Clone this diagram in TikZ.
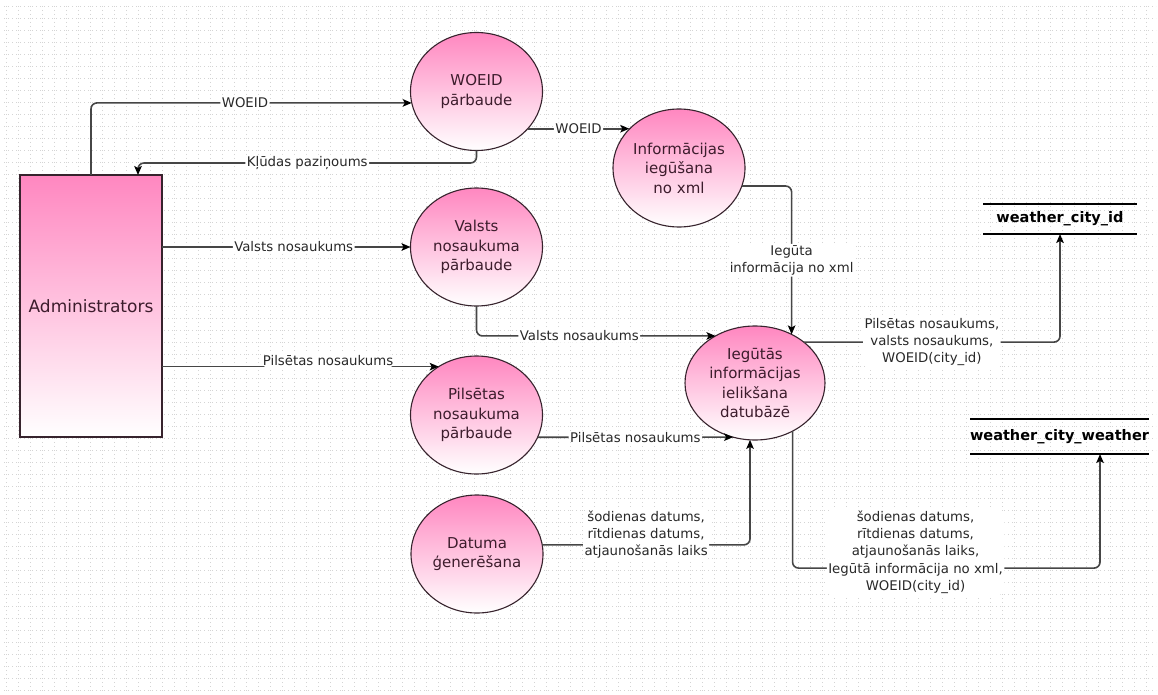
\documentclass[tikz,border=0pt]{standalone}
\usepackage{fontspec}
\setmainfont{DejaVu Sans}
\usetikzlibrary{shapes.geometric,arrows.meta,calc}
\definecolor{pinktop}{RGB}{255,135,192}
\definecolor{edgec}{RGB}{55,35,45}
\definecolor{wire}{RGB}{70,70,70}
\definecolor{labtxt}{RGB}{40,40,40}
\definecolor{proctxt}{RGB}{60,28,44}
\definecolor{gridc}{RGB}{212,212,212}
\tikzset{
  proc/.style={ellipse, draw=edgec, line width=1.1pt, top color=pinktop, bottom color=white,
    minimum width=132pt, minimum height=118pt, inner sep=0pt, outer sep=0pt, align=center,
    text=proctxt, font=\fontsize{15}{19.5}\selectfont},
  ent/.style={rectangle, draw=edgec, line width=1.1pt, top color=pinktop, bottom color=white,
    minimum width=142pt, minimum height=262pt, inner sep=0pt, outer sep=0pt,
    text=proctxt, font=\fontsize{17}{20}\selectfont},
  store/.style={rectangle, inner sep=0pt, outer sep=0pt, text=black,
    font=\fontsize{14.5}{18}\selectfont\bfseries},
  storeline/.style={draw=black, line width=2pt},
  flow/.style={draw=wire, line width=1.6pt, rounded corners=6pt,
    -{Stealth[length=9pt,width=7.5pt,inset=2pt,color=black]}},
  lab/.style={fill=white, inner sep=1.5pt, text=labtxt, align=center,
    font=\fontsize{13.3}{17.2}\selectfont},
  gridl/.style={draw=gridc, line width=0.6pt, dash pattern=on 0.6pt off 3.4pt},
}
\begin{document}
\begin{tikzpicture}[x=1pt,y=-1pt]
\useasboundingbox (0,0) rectangle (1158,695);
\fill[white] (0,0) rectangle (1158,695);
\foreach \gx in {6,18,...,1154} \draw[gridl] (\gx,6) -- (\gx,692);
\foreach \gy in {6,18,...,690} \draw[gridl] (4,\gy) -- (1156,\gy);

% nodes
\node[ent] (admin) at (91,306) {Administrators};
\node[proc] (woeid) at (476.5,91.5) {WOEID\\pārbaude};
\node[proc] (info) at (679,168) {Informācijas\\iegūšana\\no xml};
\node[proc] (valsts) at (476.5,247) {Valsts\\nosaukuma\\pārbaude};
\node[proc] (pils) at (476.5,415) {Pilsētas\\nosaukuma\\pārbaude};
\node[proc] (datuma) at (477,554) {Datuma\\ģenerēšana};
\node[proc, minimum width=140pt, minimum height=114pt] (ieg) at (755,383) {Iegūtās\\informācijas\\ielikšana\\datubāzē};
\node[store, minimum width=154pt, minimum height=30pt] (s1) at (1060,219) {weather\_city\_id};
\node[store, minimum width=177pt, minimum height=35pt] (s2) at (1059.5,436.5) {weather\_city\_weather};
\draw[storeline] (s1.north west) -- (s1.north east) (s1.south west) -- (s1.south east);
\draw[storeline] (s2.north west) -- (s2.north east) (s2.south west) -- (s2.south east);

% connectors
\draw[flow] (admin.north) |- node[lab,pos=0.74]{WOEID} (woeid.190);
\draw[flow] (woeid.south) -- ++(0,12.5) -| node[lab,pos=0.25]{Kļūdas paziņoums} ([xshift=47pt]admin.north);
\draw[flow] (woeid.324) -- node[lab]{WOEID} (woeid.324 -| info.142);
\draw[flow] (info.344) -| node[lab,pos=0.75]{Iegūta\\informācija no xml} (ieg.53);
\draw[flow] (valsts.west -| admin.east) -- node[lab,pos=0.53]{Valsts nosaukums} (valsts.west);
\draw[flow] (admin.east |- pils.128) -- node[lab,pos=0.6,yshift=6pt]{Pilsētas nosaukums} (pils.128);
\draw[flow] (valsts.south) |- node[lab,pos=0.715]{Valsts nosaukums} (ieg.130);
\draw[flow] (pils.340) -- node[lab]{Pilsētas nosaukums} (ieg.248);
\draw[flow] (datuma.8) -| node[lab,pos=0.25,yshift=10pt]{šodienas datums,\\rītdienas datums,\\atjaunošanās laiks} (ieg.265);
\draw[flow] (ieg.40) -| node[lab,pos=0.25]{Pilsētas nosaukums,\\valsts nosaukums,\\WOEID(city\_id)} (s1.south);
\draw[flow] (ieg.308) -- ++(0,137) -| node[lab,pos=0.2,yshift=16pt]{šodienas datums,\\rītdienas datums,\\atjaunošanās laiks,\\Iegūtā informācija no xml,\\WOEID(city\_id)} ([xshift=40.5pt]s2.south);
\end{tikzpicture}
\end{document}
